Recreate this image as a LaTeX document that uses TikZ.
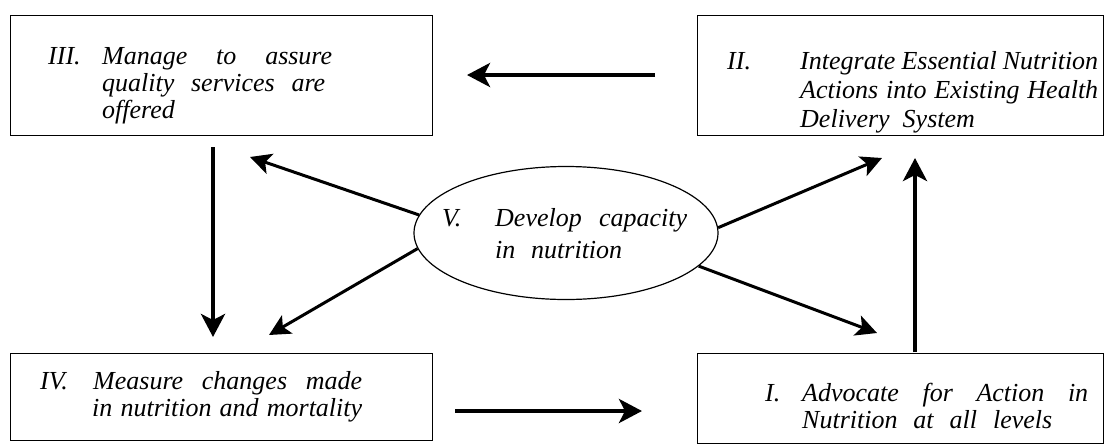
\documentclass[tikz,border=0pt]{standalone}
\usepackage{fontspec}
\setmainfont{Liberation Serif}
\usetikzlibrary{arrows.meta,shapes.geometric}
\tikzset{
  box/.style={draw, line width=1.2pt, anchor=north west, inner sep=0pt},
  txt/.style={anchor=base west, inner sep=0pt, font=\fontsize{26}{29}\selectfont\itshape},
  bigarrow/.style={line width=4pt, -{Stealth[length=23pt,width=24pt,inset=6pt]}},
  diagarrow/.style={line width=3pt, -{Stealth[length=21pt,width=21pt,inset=5pt]}}
}
\begin{document}
\begin{tikzpicture}[x=1pt,y=-1pt]
\useasboundingbox (0,0) rectangle (1112,445);
% boxes
\node[box, minimum width=422pt, minimum height=120pt] (III) at (10,15) {};
\node[box, minimum width=406pt, minimum height=120pt] (II) at (697,15) {};
\node[box, minimum width=422pt, minimum height=87pt] (IV) at (10,353) {};
\node[box, minimum width=406pt, minimum height=90pt] (I) at (697,353) {};
\node[ellipse, draw, line width=1.2pt, minimum width=304pt, minimum height=133pt, inner sep=0pt] (V) at (566,233) {};
% box III text
\node[txt] (t3a) at (48,64) {III.};
\node[txt] (t3b) at (102,64) {\makebox[230pt][s]{Manage to assure}};
\node[txt] (t3c) at (102,91) {\makebox[223pt][s]{quality services are}};
\node[txt] (t3d) at (102,118) {offered};
% box II text
\node[txt] (t2a) at (727,69) {II.};
\node[txt] (t2b) at (800,69) {\makebox[298pt][s]{Integrate Essential Nutrition}};
\node[txt] (t2c) at (800,98) {\makebox[298pt][s]{Actions into Existing Health}};
\node[txt] (t2d) at (800,127) {Delivery\ \ System};
% box IV text
\node[txt] (t4a) at (40,389) {IV.};
\node[txt] (t4b) at (93,389) {\makebox[269pt][s]{Measure changes made}};
\node[txt] (t4c) at (92,416) {\makebox[270pt][s]{in nutrition and mortality}};
% box I text
\node[txt] (t1a) at (765,401) {I.};
\node[txt] (t1b) at (802,401) {\makebox[286pt][s]{Advocate for Action in}};
\node[txt] (t1c) at (802,428) {\makebox[250pt][s]{Nutrition at all levels}};
% ellipse text
\node[txt] (t5a) at (442,226) {V.};
\node[txt] (t5b) at (495,226) {\makebox[192pt][s]{Develop capacity}};
\node[txt] (t5c) at (495,258) {\makebox[127pt][s]{in nutrition}};
% arrow end points
\coordinate (topS) at (655,75);
\coordinate (topE) at (467,75);
\coordinate (leftS) at (213,147);
\coordinate (leftE) at (213,337);
\coordinate (botS) at (455,411);
\coordinate (botE) at (642,411);
\coordinate (rightS) at (915,352);
\coordinate (rightE) at (915,158);
\coordinate (ulE) at (250,157);
\coordinate (llE) at (269,335);
\coordinate (urE) at (882,158);
\coordinate (lrE) at (877,333);
% arrows
\draw[bigarrow] (topS) -- (topE);
\draw[bigarrow] (leftS) -- (leftE);
\draw[bigarrow] (botS) -- (botE);
\draw[bigarrow] (rightS) -- (rightE);
\draw[diagarrow] (V.173) -- (ulE);
\draw[diagarrow] (V.186) -- (llE);
\draw[diagarrow] (V.2) -- (urE);
\draw[diagarrow] (V.-14) -- (lrE);
\end{tikzpicture}
\end{document}
